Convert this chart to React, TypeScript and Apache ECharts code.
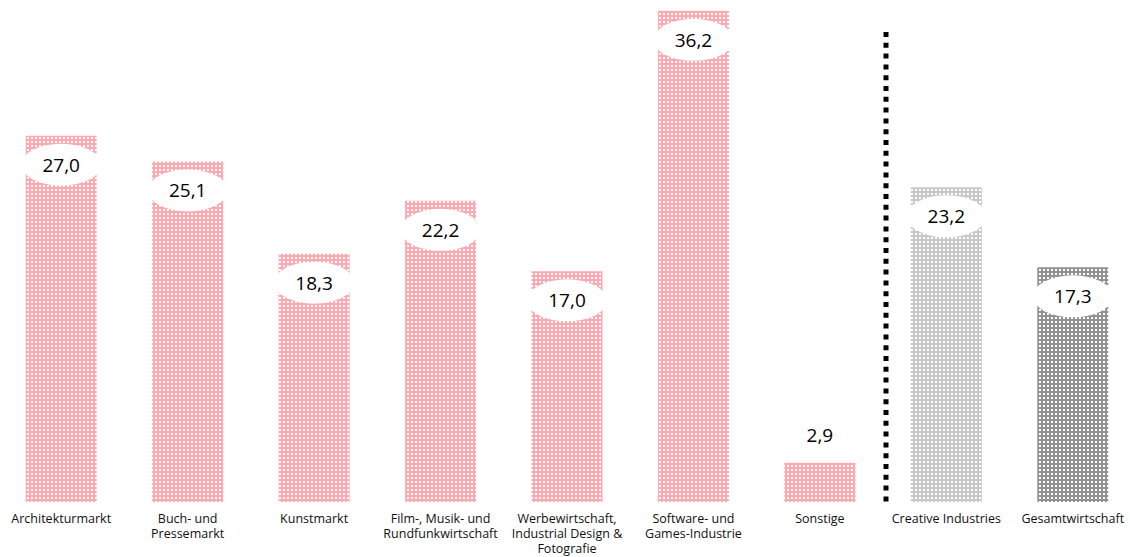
import React, { useEffect, useRef } from "react";
import * as echarts from "echarts";

const categories = [
  "Architekturmarkt",
  "Buch- und\nPressemarkt",
  "Kunstmarkt",
  "Film-, Musik- und\nRundfunkwirtschaft",
  "Werbewirtschaft,\nIndustrial Design &\nFotografie",
  "Software- und\nGames-Industrie",
  "Sonstige",
  "Creative Industries",
  "Gesamtwirtschaft",
];
const values = [27.0, 25.1, 18.3, 22.2, 17.0, 36.2, 2.9, 23.2, 17.3];
const groups = ["sector", "sector", "sector", "sector", "sector", "sector", "sector", "creative", "total"];

const FONT = "'Open Sans', 'DejaVu Sans', sans-serif";

function makePattern(base: string) {
  const c = document.createElement("canvas");
  c.width = 4;
  c.height = 4;
  const ctx = c.getContext("2d")!;
  ctx.fillStyle = base;
  ctx.fillRect(0, 0, 4, 4);
  ctx.fillStyle = "#ffffff";
  ctx.fillRect(1, 1, 2, 2);
  return { image: c.toDataURL(), repeat: "repeat", imageWidth: 4, imageHeight: 4 } as any;
}

export default function App() {
  const ref = useRef<HTMLDivElement>(null);
  useEffect(() => {
    if (!ref.current) return;
    const chart = echarts.init(ref.current, undefined, { renderer: "svg" });
    const patterns: Record<string, any> = {
      sector: makePattern("#ffa8b0"),
      creative: makePattern("#c8c8c8"),
      total: makePattern("#929292"),
    };
    const ellipse = "path://M0,21 A40,21 0 1,1 80,21 A40,21 0 1,1 0,21 Z";
    chart.setOption({
      animation: false,
      grid: { left: 0, right: 0, top: 0, bottom: 55, containLabel: false },
      xAxis: {
        type: "category",
        data: categories,
        axisLine: { show: false },
        axisTick: { show: false },
        axisLabel: {
          interval: 0,
          margin: 9,
          fontFamily: FONT,
          fontSize: 12.5,
          lineHeight: 15,
          color: "#111111",
        },
      },
      yAxis: { type: "value", min: 0, max: 37, show: false, splitLine: { show: false } },
      series: [
        {
          type: "bar",
          barWidth: 71,
          data: values.map((v, i) => ({ value: v, itemStyle: { color: patterns[groups[i]] } })),
          z: 2,
        },
        {
          type: "scatter",
          symbol: ellipse,
          symbolSize: [80, 42],
          z: 3,
          itemStyle: { color: "#ffffff", opacity: 1 },
          label: {
            show: true,
            position: "inside",
            fontFamily: FONT,
            fontSize: 19,
            color: "#000000",
            formatter: (p: any) => Number(p.value).toFixed(1).replace(".", ","),
          },
          emphasis: { disabled: true },
          data: values.map((v) => ({ value: v, symbolOffset: v < 5 ? [0, -28] : [0, 29] })),
        },
      ],
    });
    const x6 = chart.convertToPixel({ xAxisIndex: 0 }, 6) as number;
    const x7 = chart.convertToPixel({ xAxisIndex: 0 }, 7) as number;
    const yBottom = chart.convertToPixel({ yAxisIndex: 0 }, 0) as number;
    const xs = Math.round((x6 + x7) / 2) + 3;
    chart.setOption({
      graphic: [
        {
          type: "line",
          shape: { x1: xs, y1: 32, x2: xs, y2: yBottom },
          style: { stroke: "#000000", lineWidth: 5, lineDash: [5, 5.8], lineCap: "butt" },
          z: 10,
        },
      ],
    });
    return () => chart.dispose();
  }, []);
  return (
    <div
      ref={ref}
      style={{ position: "fixed", left: -2, top: 0, width: 1138, height: 557, background: "#ffffff" }}
    />
  );
}
